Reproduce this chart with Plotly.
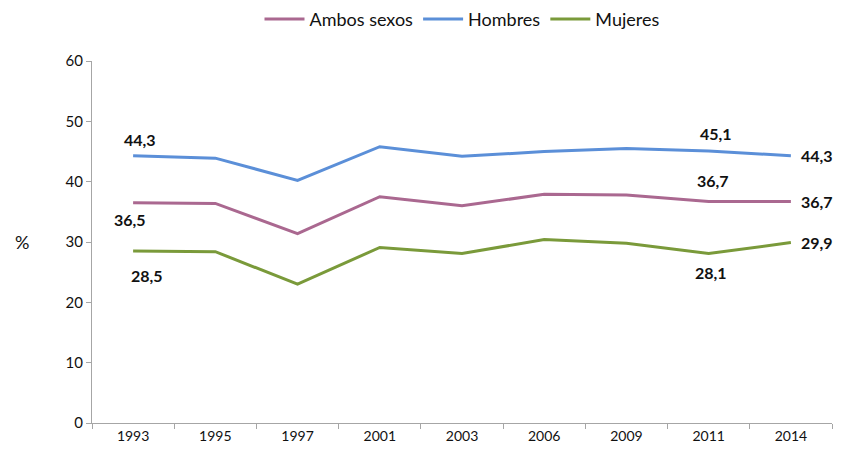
import plotly.graph_objects as go

years = ["1993", "1995", "1997", "2001", "2003", "2006", "2009", "2011", "2014"]
ambos = [36.5, 36.4, 31.4, 37.5, 36.0, 37.9, 37.8, 36.7, 36.7]
hombres = [44.3, 43.9, 40.2, 45.8, 44.2, 45.0, 45.5, 45.1, 44.3]
mujeres = [28.5, 28.4, 23.0, 29.1, 28.1, 30.4, 29.8, 28.1, 29.9]

series = [
    ("Ambos sexos", ambos, "#AA6890"),
    ("Hombres", hombres, "#5B8FD8"),
    ("Mujeres", mujeres, "#7A9A3A"),
]

FONT = "Lato, 'Open Sans', sans-serif"

fig = go.Figure()
for name, vals, col in series:
    fig.add_trace(go.Scatter(x=years, y=vals, mode="lines", name=name,
                             line=dict(color=col, width=3)))

# data labels: (series values, index, xanchor, xshift, yshift)
labels = [
    (hombres, 0, "center", 7, 16), (ambos, 0, "center", -3, -17), (mujeres, 0, "center", 14, -24),
    (hombres, 7, "center", 7, 17), (ambos, 7, "center", 4, 21), (mujeres, 7, "center", 2, -19),
    (hombres, 8, "left", 8, 0), (ambos, 8, "left", 8, 0), (mujeres, 8, "left", 8, 0),
]
for vals, i, xa, xs, ys in labels:
    fig.add_annotation(x=i, y=vals[i], xref="x", yref="y",
                       text=f"<b>{vals[i]:.1f}</b>".replace(".", ","),
                       showarrow=False, xanchor=xa, xshift=xs, yshift=ys,
                       font=dict(family=FONT, size=16, color="#111111"))

fig.add_annotation(text="%", xref="paper", yref="paper", x=-0.095, y=0.5,
                   xanchor="center", yanchor="middle", showarrow=False,
                   font=dict(family=FONT, size=18, color="#111111"))

fig.update_layout(
    width=833, height=444,
    margin=dict(l=84, r=9, t=53, b=29, autoexpand=False),
    paper_bgcolor="white", plot_bgcolor="white",
    font=dict(family=FONT, size=14, color="#111111"),
    legend=dict(orientation="h", x=0.5, xanchor="center", y=1.115, yanchor="middle",
                font=dict(family=FONT, size=18), itemwidth=40,
                traceorder="normal"),
    showlegend=True,
)
fig.update_xaxes(type="category", range=[-0.5, 8.5], showline=True, linecolor="#A6A6A6",
                 linewidth=1, ticks="outside", tickson="boundaries", ticklen=5,
                 tickcolor="#A6A6A6", showgrid=False, tickangle=0,
                 tickfont=dict(family=FONT, size=14))
fig.update_yaxes(range=[0, 60], dtick=10, showline=True, linecolor="#A6A6A6", linewidth=1,
                 ticks="outside", ticklen=5, tickcolor="#A6A6A6", showgrid=False,
                 zeroline=False, tickfont=dict(family=FONT, size=15))

fig.write_html("out.html")
